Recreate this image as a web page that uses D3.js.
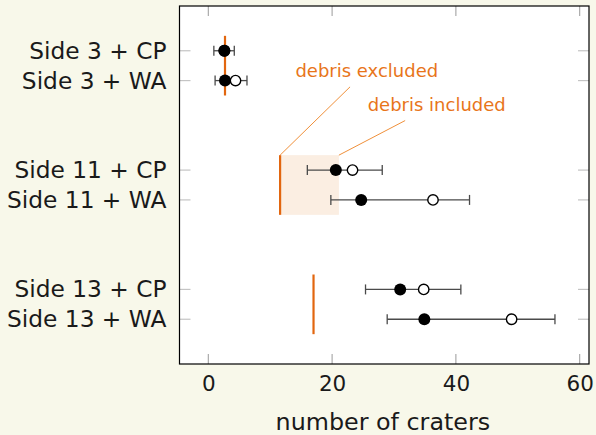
<!DOCTYPE html>
<html>
<head>
<meta charset="utf-8">
<script src="https://cdn.jsdelivr.net/npm/d3@7"></script>
<style>
  html, body { margin: 0; padding: 0; background: #f8f8ea; }
  svg { display: block; }
  text { font-family: "DejaVu Sans", sans-serif; }
</style>
</head>
<body>
<svg id="chart" width="596" height="435"></svg>
<script>
// Crater counts per side / region, with and without debris
const categories = ["Side 3 + CP", "Side 3 + WA", "Side 11 + CP", "Side 11 + WA", "Side 13 + CP", "Side 13 + WA"];
const rowPos = [0, 1, 4, 5, 8, 9];
const debrisExcluded = [2.6, 2.7, 20.6, 24.7, 31.0, 34.9];
const debrisIncluded = [2.6, 4.4, 23.3, 36.3, 34.8, 49.0];
const errLow = [0.9, 1.1, 16.0, 19.8, 25.4, 28.9];
const errHigh = [4.2, 6.25, 28.1, 42.2, 40.8, 56.0];

// Threshold lines per side (x value, row span)
const thresholdX = [2.7, 11.6, 17.0];
const thresholdFrom = [-0.5, 3.5, 7.5];
const thresholdTo = [1.5, 5.5, 9.5];
// Shaded range for side 11
const bandX = [11.6, 21.1];
const bandY = [3.5, 5.5];

const xTicks = [0, 20, 40, 60];

const FONT = "'DejaVu Sans', sans-serif";
const svg = d3.select("#chart");
const L = 179.5, R = 589, T = 6, B = 364;

const x = d3.scaleLinear().domain([-4.65, 61.5]).range([L, R]);
const y = d3.scaleLinear().domain([-1.5, 10.5]).range([T, B]);

// plot background
svg.append("rect").attr("x", L).attr("y", T).attr("width", R - L).attr("height", B - T)
  .attr("fill", "#ffffff");

// shaded band
svg.append("rect")
  .attr("x", x(bandX[0])).attr("y", y(bandY[0]))
  .attr("width", x(bandX[1]) - x(bandX[0])).attr("height", y(bandY[1]) - y(bandY[0]))
  .attr("fill", "#fbeee2");

// threshold lines
svg.selectAll("line.thr").data(thresholdX).join("line")
  .attr("class", "thr")
  .attr("x1", d => x(d)).attr("x2", d => x(d))
  .attr("y1", (d, i) => y(thresholdFrom[i])).attr("y2", (d, i) => y(thresholdTo[i]))
  .attr("stroke", "#e2660f").attr("stroke-width", 2.2);

// annotation leader lines
const annExcl = { text: "debris excluded", tx: 25.6, ty: 0.87, from: [bandX[0], bandY[0]], to: [22.9, 1.21] };
const annIncl = { text: "debris included", tx: 36.9, ty: 2.02, from: [bandX[1], bandY[0]], to: [31.8, 2.34] };
[annExcl, annIncl].forEach(a => {
  svg.append("line")
    .attr("x1", x(a.from[0])).attr("y1", y(a.from[1]))
    .attr("x2", x(a.to[0])).attr("y2", y(a.to[1]))
    .attr("stroke", "#f0903a").attr("stroke-width", 1);
  svg.append("text")
    .attr("x", x(a.tx)).attr("y", y(a.ty))
    .attr("text-anchor", "middle")
    .attr("fill", "#e8751a")
    .attr("font-size", 18)
    .text(a.text);
});

// axis ticks: x on top and bottom, y on left and right
const xTickLen = 10;
xTicks.forEach(t => {
  svg.append("line").attr("x1", x(t)).attr("x2", x(t)).attr("y1", T).attr("y2", T + xTickLen)
    .attr("stroke", "#9a9a9a").attr("stroke-width", 1);
  svg.append("line").attr("x1", x(t)).attr("x2", x(t)).attr("y1", B).attr("y2", B - xTickLen)
    .attr("stroke", "#9a9a9a").attr("stroke-width", 1);
});
rowPos.forEach(r => {
  svg.append("line").attr("x1", L).attr("x2", L + 11).attr("y1", y(r)).attr("y2", y(r))
    .attr("stroke", "#c4c4c4").attr("stroke-width", 1.2);
  svg.append("line").attr("x1", R).attr("x2", R - 11).attr("y1", y(r)).attr("y2", y(r))
    .attr("stroke", "#c4c4c4").attr("stroke-width", 1.2);
});

// bottom axis labels
const xAxis = d3.axisBottom(x).tickValues(xTicks).tickSize(0).tickPadding(12).tickFormat(d3.format("d"));
const gx = svg.append("g").attr("transform", `translate(0,${B})`).call(xAxis);
gx.select(".domain").remove();
gx.selectAll("text").attr("font-size", 21.5).attr("fill", "#1a1a1a")
  .style("font-family", FONT);

// category labels
const yAxis = d3.axisLeft(y).tickValues(rowPos).tickSize(0).tickPadding(13)
  .tickFormat((d, i) => categories[i]);
const gy = svg.append("g").attr("transform", `translate(${L},0)`).call(yAxis);
gy.select(".domain").remove();
gy.selectAll("text").attr("font-size", 23.3).attr("fill", "#1a1a1a")
  .style("font-family", FONT);

// error bars
const rows = categories.map((c, i) => ({ c, r: rowPos[i], ex: debrisExcluded[i], inc: debrisIncluded[i], lo: errLow[i], hi: errHigh[i] }));
const eb = svg.append("g").attr("stroke", "#4a4a4a").attr("stroke-width", 1.3);
rows.forEach(d => {
  eb.append("line").attr("x1", x(d.lo)).attr("x2", x(d.hi)).attr("y1", y(d.r)).attr("y2", y(d.r));
  [d.lo, d.hi].forEach(v => {
    eb.append("line").attr("x1", x(v)).attr("x2", x(v)).attr("y1", y(d.r) - 5).attr("y2", y(d.r) + 5);
  });
});

// open markers: debris included
svg.selectAll("circle.inc").data(rows).join("circle")
  .attr("class", "inc")
  .attr("cx", d => x(d.inc)).attr("cy", d => y(d.r)).attr("r", 5.2)
  .attr("fill", "#ffffff").attr("stroke", "#000").attr("stroke-width", 1.4);

// filled markers: debris excluded
svg.selectAll("circle.ex").data(rows).join("circle")
  .attr("class", "ex")
  .attr("cx", d => x(d.ex)).attr("cy", d => y(d.r)).attr("r", 6)
  .attr("fill", "#000");

// frame
svg.append("rect").attr("x", L).attr("y", T).attr("width", R - L).attr("height", B - T)
  .attr("fill", "none").attr("stroke", "#000").attr("stroke-width", 1.2);

// x axis title
svg.append("text").attr("x", x(28.2)).attr("y", 430)
  .attr("text-anchor", "middle").attr("font-size", 23.8).attr("fill", "#1a1a1a")
  .text("number of craters");
</script>
</body>
</html>
